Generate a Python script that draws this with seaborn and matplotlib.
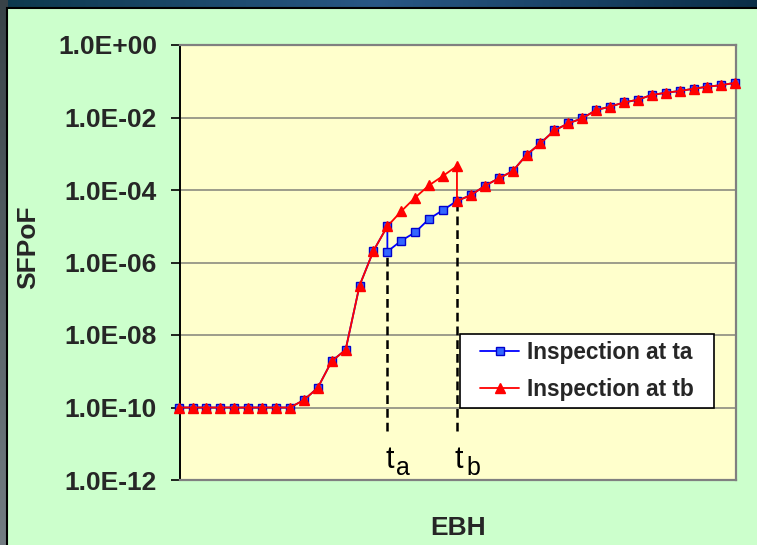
import numpy as np
import pandas as pd
import matplotlib
matplotlib.use("Agg")
import matplotlib.pyplot as plt
from matplotlib.patches import Rectangle
from matplotlib.ticker import FixedLocator, FuncFormatter, NullLocator
import seaborn as sns

sns.set_theme(style="white")
plt.rcParams["font.family"] = ["Liberation Sans", "DejaVu Sans"]

# Inspection times (EBH index)
t_a = 15
t_b = 20

# Series with inspection at ta: jumps down at ta
blue_ebh = [0, 1, 2, 3, 4, 5, 6, 7, 8, 9, 10, 11, 12, 13, 14, 15, 15,
            16, 17, 18, 19, 20, 21, 22, 23, 24, 25, 26, 27, 28, 29, 30,
            31, 32, 33, 34, 35, 36, 37, 38, 39, 40]
blue_sfpof = [1.0e-10, 1.0e-10, 1.0e-10, 1.0e-10, 1.0e-10, 1.0e-10, 1.0e-10,
              1.0e-10, 1.0e-10, 1.6e-10, 3.5e-10, 1.9e-9, 3.9e-9, 2.3e-7,
              2.1e-6, 1.0e-5, 2.0e-6,
              4.0e-6, 6.8e-6, 1.6e-5, 2.8e-5, 5.0e-5, 7.2e-5, 1.3e-4, 2.1e-4,
              3.3e-4, 9.3e-4, 1.95e-3, 4.4e-3, 6.9e-3, 9.5e-3, 1.6e-2,
              2.0e-2, 2.6e-2, 3.1e-2, 4.2e-2, 4.8e-2, 5.4e-2, 6.2e-2, 7.1e-2,
              7.8e-2, 9.1e-2]

# Series with inspection at tb: jumps down at tb
red_ebh = [0, 1, 2, 3, 4, 5, 6, 7, 8, 9, 10, 11, 12, 13, 14, 15, 16, 17,
           18, 19, 20, 20, 21, 22, 23, 24, 25, 26, 27, 28, 29, 30,
           31, 32, 33, 34, 35, 36, 37, 38, 39, 40]
red_sfpof = [1.0e-10, 1.0e-10, 1.0e-10, 1.0e-10, 1.0e-10, 1.0e-10, 1.0e-10,
             1.0e-10, 1.0e-10, 1.6e-10, 3.5e-10, 1.9e-9, 3.9e-9, 2.3e-7,
             2.1e-6, 1.0e-5, 2.6e-5, 6.2e-5, 1.35e-4, 2.45e-4, 4.6e-4, 5.0e-5,
             7.2e-5, 1.3e-4, 2.1e-4,
             3.3e-4, 9.3e-4, 1.95e-3, 4.4e-3, 6.9e-3, 9.5e-3, 1.6e-2,
             2.0e-2, 2.6e-2, 3.1e-2, 4.2e-2, 4.8e-2, 5.4e-2, 6.2e-2, 7.1e-2,
             7.8e-2, 9.1e-2]

y_ticks = [1e-12, 1e-10, 1e-8, 1e-6, 1e-4, 1e-2, 1e0]
guide_floor = 2.2e-11

W, H, DPI = 757, 545, 100
fig = plt.figure(figsize=(W / DPI, H / DPI), dpi=DPI)

# dark gradient frame behind the light green panel
bg = fig.add_axes([0, 0, 1, 1], zorder=-10)
bg.axis("off")
xs = np.linspace(0, 1, W)
ys = np.linspace(0, 1, H)
top_r = np.interp(xs, [0, 0.5, 1], [0.05, 0.16, 0.04])
top_g = np.interp(xs, [0, 0.5, 1], [0.22, 0.34, 0.18])
top_b = np.interp(xs, [0, 0.5, 1], [0.30, 0.52, 0.28])
img = np.empty((H, W, 3))
img[:, :, 0] = top_r
img[:, :, 1] = top_g
img[:, :, 2] = top_b
left = np.interp(ys, [0, 1], [0.22, 0.45])
img[:, :8, 0] = left[:, None]
img[:, :8, 1] = (left + 0.04)[:, None]
img[:, :8, 2] = (left + 0.06)[:, None]
bg.imshow(img, extent=[0, 1, 0, 1], aspect="auto", origin="upper")
bg.add_patch(Rectangle((7 / W, -0.01), 1.0, (H - 8) / H + 0.01,
                       transform=bg.transAxes, facecolor="#CCFFCC",
                       edgecolor="black", linewidth=1.5))
bg.set_xlim(0, 1)
bg.set_ylim(0, 1)

ax = fig.add_axes([180 / W, (H - 480) / H, 556 / W, 435 / H], zorder=1)
ax.set_facecolor("#FFFFCC")

df_a = pd.DataFrame({"EBH": blue_ebh, "SFPoF": blue_sfpof})
df_b = pd.DataFrame({"EBH": red_ebh, "SFPoF": red_sfpof})

sns.lineplot(data=df_a, x="EBH", y="SFPoF", ax=ax, sort=False, estimator=None,
             color="#0000FF", linewidth=1.3, marker="s", markersize=6.3,
             markerfacecolor="#3366FF", markeredgecolor="#0000CC",
             markeredgewidth=1.0, label="Inspection at ta", clip_on=False,
             zorder=3)
sns.lineplot(data=df_b, x="EBH", y="SFPoF", ax=ax, sort=False, estimator=None,
             color="#FF0000", linewidth=1.3, marker="^", markersize=7.3,
             markerfacecolor="#FF0000", markeredgecolor="#FF0000",
             markeredgewidth=1.0, label="Inspection at tb", clip_on=False,
             zorder=4)

# dashed guides from post-inspection value down to the labels
ta_post = min(v for x, v in zip(blue_ebh, blue_sfpof) if x == t_a)
tb_post = min(v for x, v in zip(red_ebh, red_sfpof) if x == t_b)
for t, top in ((t_a, ta_post), (t_b, tb_post)):
    ax.plot([t, t], [guide_floor, top], color="black", linewidth=1.8,
            linestyle=(0, (3.5, 2)), zorder=2)

for t, sub in ((t_a, "a"), (t_b, "b")):
    ax.annotate("t", xy=(t, 0.027), xycoords=("data", "axes fraction"),
                xytext=(-1.5, 0), textcoords="offset points",
                fontsize=22, ha="left", va="baseline", color="black")
    ax.annotate(sub, xy=(t, 0.027), xycoords=("data", "axes fraction"),
                xytext=(6.5, -4.5), textcoords="offset points",
                fontsize=18, ha="left", va="baseline", color="black")

ax.set_yscale("log")
ax.set_ylim(1e-12, 1e0)
ax.set_xlim(0.1, 40.05)
ax.yaxis.set_major_locator(FixedLocator(y_ticks))
ax.yaxis.set_minor_locator(NullLocator())
ax.yaxis.set_major_formatter(FuncFormatter(
    lambda v, p: "1.0E{:+03d}".format(int(round(np.log10(v))))))
ax.xaxis.set_major_locator(NullLocator())
ax.xaxis.set_minor_locator(NullLocator())
ax.tick_params(axis="y", which="major", direction="out", length=6.5,
               width=1.2, color="black", pad=10, labelsize=19, left=True)
for lbl in ax.get_yticklabels():
    lbl.set_fontweight("bold")

ax.grid(axis="y", color="#8C8C80", linewidth=1.2)
ax.grid(axis="x", visible=False)
ax.set_axisbelow(True)
for side in ("top", "right", "bottom"):
    ax.spines[side].set_color("#808080")
    ax.spines[side].set_linewidth(1.6)
ax.spines["left"].set_color("black")
ax.spines["left"].set_linewidth(1.4)

ax.set_xlabel("EBH", fontsize=19, fontweight="bold", labelpad=26)
ax.set_ylabel("SFPoF", fontsize=19, fontweight="bold")
ax.yaxis.set_label_coords(-0.252, 0.535)

# legend with its own white frame
ax.add_patch(Rectangle((0.504, 0.1655), 0.456, 0.170, transform=ax.transAxes,
                       facecolor="white", edgecolor="black", linewidth=1.2,
                       zorder=5))
leg = ax.legend(loc="center", bbox_to_anchor=(0.732, 0.2505), frameon=False,
                prop={"size": 16.3, "weight": "bold"}, handlelength=1.7,
                handletextpad=0.35, labelspacing=0.65, borderpad=0.3)
leg.set_zorder(6)

fig.savefig("out.png", dpi=DPI)
